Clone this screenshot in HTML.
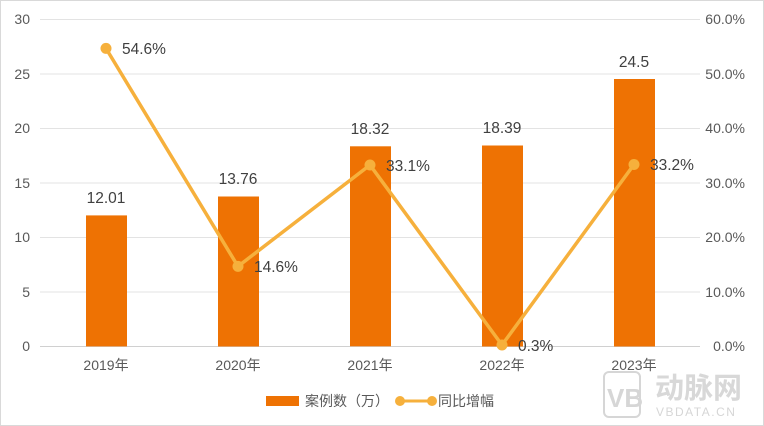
<!DOCTYPE html><html><head><style>body{margin:0;background:#fff}svg{display:block;font-family:"Liberation Sans","Noto Sans CJK SC",sans-serif}</style></head><body>
<svg width="764" height="426" viewBox="0 0 764 426">
<rect x="0.5" y="0.5" width="763" height="425" fill="#fff" stroke="#d9d9d9"/>
<g stroke="#e3e3e3" stroke-width="1">
<line x1="40" x2="700" y1="19.5" y2="19.5"/><line x1="40" x2="700" y1="74" y2="74"/><line x1="40" x2="700" y1="128.5" y2="128.5"/><line x1="40" x2="700" y1="183" y2="183"/><line x1="40" x2="700" y1="237.5" y2="237.5"/><line x1="40" x2="700" y1="292" y2="292"/></g>
<line x1="40" x2="700" y1="346.5" y2="346.5" stroke="#d0d0d0"/>
<g font-size="14" fill="#595959" text-anchor="end">
<text x="30" y="24">30</text><text x="30" y="79">25</text><text x="30" y="133">20</text><text x="30" y="188">15</text><text x="30" y="242">10</text><text x="30" y="297">5</text><text x="30" y="351">0</text></g>
<g font-size="14" fill="#595959" text-anchor="end">
<text x="745" y="24">60.0%</text><text x="745" y="79">50.0%</text><text x="745" y="133">40.0%</text><text x="745" y="188">30.0%</text><text x="745" y="242">20.0%</text><text x="745" y="297">10.0%</text><text x="745" y="351">0.0%</text></g>
<g fill="#ee7203">
<rect x="86" y="215.4" width="41" height="131"/><rect x="218" y="196.5" width="41" height="150"/><rect x="350" y="146.3" width="41" height="200"/><rect x="482" y="145.5" width="41" height="201"/><rect x="614" y="79" width="41" height="267.5"/></g>
<g font-size="15.5" fill="#404040" text-anchor="middle">
<text x="106" y="203">12.01</text><text x="238" y="184">13.76</text><text x="370" y="134">18.32</text><text x="502" y="133">18.39</text><text x="634" y="67">24.5</text></g>
<polyline points="106,48.4 238,266.4 370,165 502,345 634,164.5" fill="none" stroke="#f6b03c" stroke-width="3.5" stroke-linejoin="round"/>
<g fill="#f6b03c"><circle cx="106" cy="48.4" r="5.5"/><circle cx="238" cy="266.4" r="5.5"/><circle cx="370" cy="165" r="5.5"/><circle cx="502" cy="345" r="5.5"/><circle cx="634" cy="164.5" r="5.5"/></g>
<g font-size="15.5" fill="#404040">
<text x="122" y="54">54.6%</text><text x="254" y="272">14.6%</text><text x="386" y="171">33.1%</text><text x="518" y="351">0.3%</text><text x="650" y="170">33.2%</text></g>
<g font-size="14" fill="#595959" text-anchor="middle">
<text x="106" y="370">2019年</text><text x="238" y="370">2020年</text><text x="370" y="370">2021年</text><text x="502" y="370">2022年</text><text x="634" y="370">2023年</text></g>
<rect x="266" y="396" width="33" height="10" fill="#ee7203"/>
<text x="305" y="406" font-size="14" fill="#595959">案例数（万）</text>
<line x1="400" x2="432" y1="401" y2="401" stroke="#f6b03c" stroke-width="3"/>
<circle cx="400" cy="401" r="5" fill="#f6b03c"/><circle cx="432" cy="401" r="5" fill="#f6b03c"/>
<text x="438" y="406" font-size="14" fill="#595959">同比增幅</text>
<g fill="none" stroke="#d6d6d6" stroke-width="2"><rect x="604" y="372" width="36" height="45" rx="5"/></g>
<text x="607" y="407" font-size="26" font-weight="bold" fill="#d6d6d6">VB</text>
<text x="655" y="398" font-size="29" font-weight="bold" fill="#d8d8d8">动脉网</text>
<text x="656" y="416" font-size="12" fill="#d6d6d6" letter-spacing="1.5">VBDATA.CN</text>
</svg></body></html>
